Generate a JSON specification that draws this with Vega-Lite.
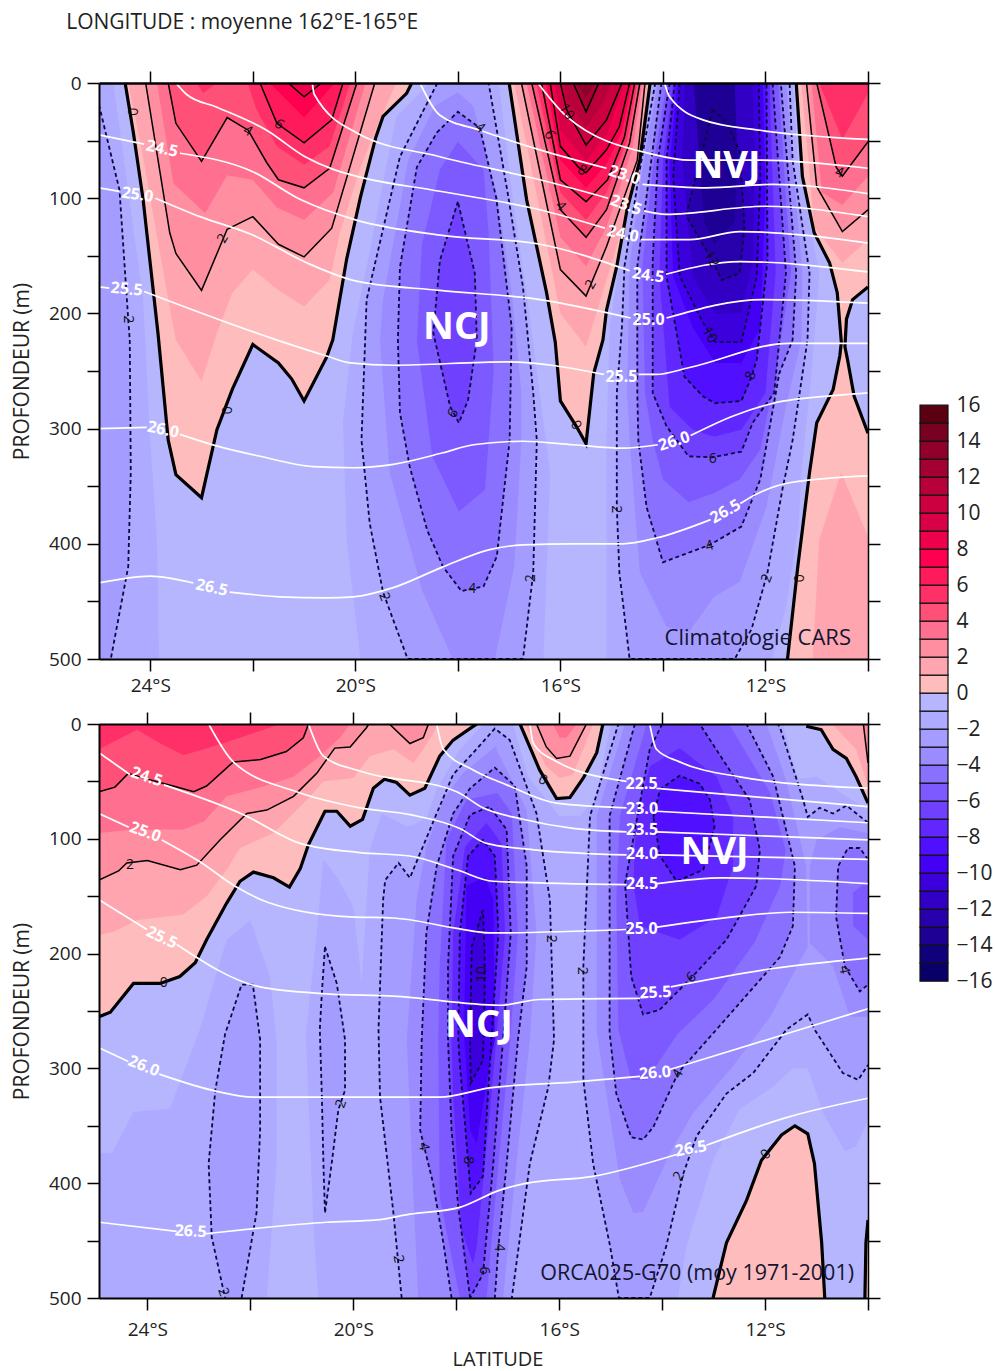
{"$schema":"https://vega.github.io/schema/vega-lite/v6.json","background":"white","padding":{"left":11,"top":12,"right":0,"bottom":20},"config":{"font":"Open Sans","concat":{"spacing":0}},"datasets":{
"topC":[
{"c":"A2","b":-2,"lat":-24.72,"d":0},{"c":"A2","b":-2,"lat":-24.45,"d":87},{"c":"A2","b":-2,"lat":-24.14,"d":188},{"c":"A2","b":-2,"lat":-24.1,"d":223},{"c":"A2","b":-2,"lat":-24,"d":310},{"c":"A2","b":-2,"lat":-23.87,"d":397},{"c":"A2","b":-2,"lat":-23.83,"d":500},{"c":"A2","b":-2,"lat":-25,"d":500},{"c":"A2","b":-2,"lat":-25,"d":0},
{"c":"A3","b":-3,"lat":-25,"d":19},{"c":"A3","b":-3,"lat":-24.6,"d":93},{"c":"A3","b":-3,"lat":-24.43,"d":205},{"c":"A3","b":-3,"lat":-24.4,"d":223},{"c":"A3","b":-3,"lat":-24.38,"d":338},{"c":"A3","b":-3,"lat":-24.43,"d":420},{"c":"A3","b":-3,"lat":-24.77,"d":500},{"c":"A3","b":-3,"lat":-25,"d":500},
{"c":"C2","b":-2,"lat":-18.55,"d":0},{"c":"C2","b":-2,"lat":-19.2,"d":29},{"c":"C2","b":-2,"lat":-19.4,"d":73},{"c":"C2","b":-2,"lat":-19.78,"d":160},{"c":"C2","b":-2,"lat":-20.05,"d":217},{"c":"C2","b":-2,"lat":-20.24,"d":295},{"c":"C2","b":-2,"lat":-20.17,"d":396},{"c":"C2","b":-2,"lat":-19.9,"d":500},{"c":"C2","b":-2,"lat":-16.33,"d":500},{"c":"C2","b":-2,"lat":-16.2,"d":338},{"c":"C2","b":-2,"lat":-16.66,"d":182},{"c":"C2","b":-2,"lat":-16.93,"d":101},{"c":"C2","b":-2,"lat":-17.2,"d":0},
{"c":"C3","b":-3,"lat":-18.4,"d":0},{"c":"C3","b":-3,"lat":-19.13,"d":64},{"c":"C3","b":-3,"lat":-19.78,"d":188},{"c":"C3","b":-3,"lat":-19.88,"d":310},{"c":"C3","b":-3,"lat":-19.72,"d":382},{"c":"C3","b":-3,"lat":-19.46,"d":442},{"c":"C3","b":-3,"lat":-18.98,"d":500},{"c":"C3","b":-3,"lat":-16.73,"d":500},{"c":"C3","b":-3,"lat":-16.53,"d":425},{"c":"C3","b":-3,"lat":-16.46,"d":310},{"c":"C3","b":-3,"lat":-16.53,"d":269},{"c":"C3","b":-3,"lat":-16.73,"d":177},{"c":"C3","b":-3,"lat":-17.03,"d":95},{"c":"C3","b":-3,"lat":-17.4,"d":0},
{"c":"C4","b":-4,"lat":-18.45,"d":20},{"c":"C4","b":-4,"lat":-18.97,"d":67},{"c":"C4","b":-4,"lat":-19.46,"d":188},{"c":"C4","b":-4,"lat":-19.52,"d":223},{"c":"C4","b":-4,"lat":-19.33,"d":338},{"c":"C4","b":-4,"lat":-18.7,"d":440},{"c":"C4","b":-4,"lat":-18.1,"d":500},{"c":"C4","b":-4,"lat":-17.28,"d":500},{"c":"C4","b":-4,"lat":-16.9,"d":420},{"c":"C4","b":-4,"lat":-16.76,"d":310},{"c":"C4","b":-4,"lat":-16.76,"d":269},{"c":"C4","b":-4,"lat":-16.95,"d":182},{"c":"C4","b":-4,"lat":-17.24,"d":95},{"c":"C4","b":-4,"lat":-17.7,"d":20},{"c":"C4","b":-4,"lat":-18,"d":8},
{"c":"C5","b":-5,"lat":-18.41,"d":43},{"c":"C5","b":-5,"lat":-18,"d":25},{"c":"C5","b":-5,"lat":-17.57,"d":39},{"c":"C5","b":-5,"lat":-17.25,"d":100},{"c":"C5","b":-5,"lat":-16.95,"d":212},{"c":"C5","b":-5,"lat":-16.99,"d":310},{"c":"C5","b":-5,"lat":-17.24,"d":411},{"c":"C5","b":-5,"lat":-17.5,"d":437},{"c":"C5","b":-5,"lat":-17.93,"d":441},{"c":"C5","b":-5,"lat":-18.29,"d":420},{"c":"C5","b":-5,"lat":-18.6,"d":388},{"c":"C5","b":-5,"lat":-18.94,"d":333},{"c":"C5","b":-5,"lat":-19.13,"d":286},{"c":"C5","b":-5,"lat":-19.17,"d":223},{"c":"C5","b":-5,"lat":-19.13,"d":160},{"c":"C5","b":-5,"lat":-18.8,"d":73},{"c":"C5","b":-5,"lat":-18.41,"d":43},
{"c":"C6","b":-6,"lat":-18,"d":51},{"c":"C6","b":-6,"lat":-18.35,"d":75},{"c":"C6","b":-6,"lat":-18.7,"d":140},{"c":"C6","b":-6,"lat":-18.8,"d":223},{"c":"C6","b":-6,"lat":-18.5,"d":324},{"c":"C6","b":-6,"lat":-17.98,"d":372},{"c":"C6","b":-6,"lat":-17.47,"d":353},{"c":"C6","b":-6,"lat":-17.3,"d":250},{"c":"C6","b":-6,"lat":-17.4,"d":130},{"c":"C6","b":-6,"lat":-17.5,"d":75},
{"c":"C7","b":-7,"lat":-18,"d":103},{"c":"C7","b":-7,"lat":-18.35,"d":154},{"c":"C7","b":-7,"lat":-18.48,"d":217},{"c":"C7","b":-7,"lat":-18.15,"d":281},{"c":"C7","b":-7,"lat":-17.98,"d":295},{"c":"C7","b":-7,"lat":-17.8,"d":275},{"c":"C7","b":-7,"lat":-17.63,"d":223},{"c":"C7","b":-7,"lat":-17.67,"d":165},{"c":"C7","b":-7,"lat":-18,"d":103},
{"c":"N2","b":-2,"lat":-14.2,"d":0},{"c":"N2","b":-2,"lat":-14.65,"d":101},{"c":"N2","b":-2,"lat":-15.04,"d":212},{"c":"N2","b":-2,"lat":-15.1,"d":310},{"c":"N2","b":-2,"lat":-15.1,"d":500},{"c":"N2","b":-2,"lat":-11.87,"d":500},{"c":"N2","b":-2,"lat":-11.6,"d":455},{"c":"N2","b":-2,"lat":-11.35,"d":382},{"c":"N2","b":-2,"lat":-11.3,"d":338},{"c":"N2","b":-2,"lat":-11.1,"d":252},{"c":"N2","b":-2,"lat":-10.95,"d":165},{"c":"N2","b":-2,"lat":-11.37,"d":67},{"c":"N2","b":-2,"lat":-11.47,"d":0},
{"c":"N3","b":-3,"lat":-14.15,"d":0},{"c":"N3","b":-3,"lat":-14.45,"d":75},{"c":"N3","b":-3,"lat":-14.75,"d":159},{"c":"N3","b":-3,"lat":-14.8,"d":212},{"c":"N3","b":-3,"lat":-14.9,"d":269},{"c":"N3","b":-3,"lat":-14.9,"d":368},{"c":"N3","b":-3,"lat":-14.85,"d":425},{"c":"N3","b":-3,"lat":-14.65,"d":500},{"c":"N3","b":-3,"lat":-12.6,"d":500},{"c":"N3","b":-3,"lat":-12.27,"d":474},{"c":"N3","b":-3,"lat":-11.96,"d":425},{"c":"N3","b":-3,"lat":-11.67,"d":353},{"c":"N3","b":-3,"lat":-11.47,"d":310},{"c":"N3","b":-3,"lat":-11.18,"d":223},{"c":"N3","b":-3,"lat":-11.14,"d":165},{"c":"N3","b":-3,"lat":-11.47,"d":67},{"c":"N3","b":-3,"lat":-11.53,"d":0},
{"c":"N4","b":-4,"lat":-14.1,"d":0},{"c":"N4","b":-4,"lat":-14.4,"d":75},{"c":"N4","b":-4,"lat":-14.65,"d":159},{"c":"N4","b":-4,"lat":-14.7,"d":269},{"c":"N4","b":-4,"lat":-14.65,"d":310},{"c":"N4","b":-4,"lat":-14.45,"d":425},{"c":"N4","b":-4,"lat":-13.93,"d":472},{"c":"N4","b":-4,"lat":-13.5,"d":477},{"c":"N4","b":-4,"lat":-13,"d":446},{"c":"N4","b":-4,"lat":-12.5,"d":433},{"c":"N4","b":-4,"lat":-11.98,"d":368},{"c":"N4","b":-4,"lat":-11.6,"d":281},{"c":"N4","b":-4,"lat":-11.3,"d":223},{"c":"N4","b":-4,"lat":-11.28,"d":165},{"c":"N4","b":-4,"lat":-11.6,"d":0},
{"c":"N5","b":-5,"lat":-14.03,"d":0},{"c":"N5","b":-5,"lat":-14.25,"d":75},{"c":"N5","b":-5,"lat":-14.5,"d":159},{"c":"N5","b":-5,"lat":-14.5,"d":269},{"c":"N5","b":-5,"lat":-14.48,"d":310},{"c":"N5","b":-5,"lat":-14.32,"d":368},{"c":"N5","b":-5,"lat":-14,"d":416},{"c":"N5","b":-5,"lat":-13.09,"d":401},{"c":"N5","b":-5,"lat":-12.47,"d":385},{"c":"N5","b":-5,"lat":-12.1,"d":344},{"c":"N5","b":-5,"lat":-11.73,"d":252},{"c":"N5","b":-5,"lat":-11.47,"d":223},{"c":"N5","b":-5,"lat":-11.4,"d":165},{"c":"N5","b":-5,"lat":-11.7,"d":0},
{"c":"N6","b":-6,"lat":-13.93,"d":0},{"c":"N6","b":-6,"lat":-14.2,"d":75},{"c":"N6","b":-6,"lat":-14.4,"d":159},{"c":"N6","b":-6,"lat":-14.35,"d":269},{"c":"N6","b":-6,"lat":-14.2,"d":310},{"c":"N6","b":-6,"lat":-14,"d":344},{"c":"N6","b":-6,"lat":-13.5,"d":364},{"c":"N6","b":-6,"lat":-13,"d":356},{"c":"N6","b":-6,"lat":-12.5,"d":344},{"c":"N6","b":-6,"lat":-12.1,"d":318},{"c":"N6","b":-6,"lat":-11.8,"d":252},{"c":"N6","b":-6,"lat":-11.5,"d":165},{"c":"N6","b":-6,"lat":-11.75,"d":0},
{"c":"N7","b":-7,"lat":-13.87,"d":0},{"c":"N7","b":-7,"lat":-14.1,"d":67},{"c":"N7","b":-7,"lat":-14.2,"d":154},{"c":"N7","b":-7,"lat":-14.2,"d":269},{"c":"N7","b":-7,"lat":-13.93,"d":298},{"c":"N7","b":-7,"lat":-13.5,"d":324},{"c":"N7","b":-7,"lat":-13.04,"d":325},{"c":"N7","b":-7,"lat":-12.47,"d":320},{"c":"N7","b":-7,"lat":-12.25,"d":295},{"c":"N7","b":-7,"lat":-11.83,"d":269},{"c":"N7","b":-7,"lat":-11.6,"d":165},{"c":"N7","b":-7,"lat":-11.86,"d":0},
{"c":"N8","b":-8,"lat":-13.8,"d":0},{"c":"N8","b":-8,"lat":-14,"d":67},{"c":"N8","b":-8,"lat":-14.07,"d":168},{"c":"N8","b":-8,"lat":-13.87,"d":281},{"c":"N8","b":-8,"lat":-13.42,"d":301},{"c":"N8","b":-8,"lat":-13,"d":307},{"c":"N8","b":-8,"lat":-12.47,"d":301},{"c":"N8","b":-8,"lat":-12,"d":269},{"c":"N8","b":-8,"lat":-11.8,"d":165},{"c":"N8","b":-8,"lat":-11.92,"d":0},
{"c":"N9","b":-9,"lat":-13.77,"d":0},{"c":"N9","b":-9,"lat":-13.93,"d":67},{"c":"N9","b":-9,"lat":-13.93,"d":168},{"c":"N9","b":-9,"lat":-13.58,"d":255},{"c":"N9","b":-9,"lat":-13.22,"d":272},{"c":"N9","b":-9,"lat":-12.98,"d":278},{"c":"N9","b":-9,"lat":-12.47,"d":276},{"c":"N9","b":-9,"lat":-12.27,"d":255},{"c":"N9","b":-9,"lat":-12.17,"d":240},{"c":"N9","b":-9,"lat":-11.96,"d":154},{"c":"N9","b":-9,"lat":-11.98,"d":0},
{"c":"N10","b":-10,"lat":-13.72,"d":0},{"c":"N10","b":-10,"lat":-13.87,"d":73},{"c":"N10","b":-10,"lat":-13.8,"d":168},{"c":"N10","b":-10,"lat":-13.42,"d":212},{"c":"N10","b":-10,"lat":-12.98,"d":243},{"c":"N10","b":-10,"lat":-12.47,"d":243},{"c":"N10","b":-10,"lat":-12.1,"d":212},{"c":"N10","b":-10,"lat":-12,"d":95},{"c":"N10","b":-10,"lat":-12.05,"d":0},
{"c":"N11","b":-11,"lat":-13.67,"d":0},{"c":"N11","b":-11,"lat":-13.8,"d":81},{"c":"N11","b":-11,"lat":-13.67,"d":168},{"c":"N11","b":-11,"lat":-13.22,"d":208},{"c":"N11","b":-11,"lat":-12.98,"d":225},{"c":"N11","b":-11,"lat":-12.47,"d":225},{"c":"N11","b":-11,"lat":-12.17,"d":168},{"c":"N11","b":-11,"lat":-12.1,"d":81},{"c":"N11","b":-11,"lat":-12.13,"d":0},
{"c":"N12","b":-12,"lat":-13.57,"d":0},{"c":"N12","b":-12,"lat":-13.62,"d":67},{"c":"N12","b":-12,"lat":-13.42,"d":168},{"c":"N12","b":-12,"lat":-12.98,"d":200},{"c":"N12","b":-12,"lat":-12.47,"d":200},{"c":"N12","b":-12,"lat":-12.25,"d":154},{"c":"N12","b":-12,"lat":-12.2,"d":67},{"c":"N12","b":-12,"lat":-12.25,"d":0},
{"c":"N13","b":-13,"lat":-13.03,"d":23},{"c":"N13","b":-13,"lat":-13.35,"d":80},{"c":"N13","b":-13,"lat":-13.55,"d":115},{"c":"N13","b":-13,"lat":-13.05,"d":153},{"c":"N13","b":-13,"lat":-12.85,"d":171},{"c":"N13","b":-13,"lat":-12.5,"d":165},{"c":"N13","b":-13,"lat":-12.41,"d":125},{"c":"N13","b":-13,"lat":-12.5,"d":60},{"c":"N13","b":-13,"lat":-12.75,"d":35},{"c":"N13","b":-13,"lat":-13.03,"d":23},
{"c":"N14","b":-14,"lat":-13.4,"d":0},{"c":"N14","b":-14,"lat":-13.3,"d":60},{"c":"N14","b":-14,"lat":-13.2,"d":120},{"c":"N14","b":-14,"lat":-13,"d":140},{"c":"N14","b":-14,"lat":-12.6,"d":120},{"c":"N14","b":-14,"lat":-12.55,"d":60},{"c":"N14","b":-14,"lat":-12.6,"d":0},
{"c":"L0","b":0,"lat":-24.49,"d":0},{"c":"L0","b":0,"lat":-24.33,"d":43},{"c":"L0","b":0,"lat":-24.14,"d":101},{"c":"L0","b":0,"lat":-23.85,"d":217},{"c":"L0","b":0,"lat":-23.65,"d":310},{"c":"L0","b":0,"lat":-23.5,"d":340},{"c":"L0","b":0,"lat":-23,"d":360},{"c":"L0","b":0,"lat":-22.7,"d":301},{"c":"L0","b":0,"lat":-22.4,"d":266},{"c":"L0","b":0,"lat":-22,"d":227},{"c":"L0","b":0,"lat":-21.5,"d":243},{"c":"L0","b":0,"lat":-21.24,"d":257},{"c":"L0","b":0,"lat":-21,"d":276},{"c":"L0","b":0,"lat":-20.56,"d":238},{"c":"L0","b":0,"lat":-20.44,"d":223},{"c":"L0","b":0,"lat":-20.17,"d":153},{"c":"L0","b":0,"lat":-19.9,"d":99},{"c":"L0","b":0,"lat":-19.6,"d":47},{"c":"L0","b":0,"lat":-19.46,"d":29},{"c":"L0","b":0,"lat":-19,"d":9},{"c":"L0","b":0,"lat":-18.9,"d":0},
{"c":"L1","b":1,"lat":-24.43,"d":0},{"c":"L1","b":1,"lat":-24.2,"d":50},{"c":"L1","b":1,"lat":-24,"d":100},{"c":"L1","b":1,"lat":-23.8,"d":150},{"c":"L1","b":1,"lat":-23.6,"d":200},{"c":"L1","b":1,"lat":-23.5,"d":223},{"c":"L1","b":1,"lat":-23,"d":259},{"c":"L1","b":1,"lat":-22.7,"d":217},{"c":"L1","b":1,"lat":-22.4,"d":182},{"c":"L1","b":1,"lat":-22,"d":162},{"c":"L1","b":1,"lat":-21.5,"d":180},{"c":"L1","b":1,"lat":-21,"d":194},{"c":"L1","b":1,"lat":-20.5,"d":171},{"c":"L1","b":1,"lat":-20.3,"d":130},{"c":"L1","b":1,"lat":-19.9,"d":73},{"c":"L1","b":1,"lat":-19.5,"d":30},{"c":"L1","b":1,"lat":-19.2,"d":0},
{"c":"L2","b":2,"lat":-24.09,"d":0},{"c":"L2","b":2,"lat":-23.62,"d":130},{"c":"L2","b":2,"lat":-23.5,"d":148},{"c":"L2","b":2,"lat":-23,"d":180},{"c":"L2","b":2,"lat":-22.5,"d":127},{"c":"L2","b":2,"lat":-22,"d":116},{"c":"L2","b":2,"lat":-21.5,"d":140},{"c":"L2","b":2,"lat":-21,"d":151},{"c":"L2","b":2,"lat":-20.46,"d":126},{"c":"L2","b":2,"lat":-19.62,"d":0},
{"c":"L3","b":3,"lat":-23.87,"d":0},{"c":"L3","b":3,"lat":-23.55,"d":87},{"c":"L3","b":3,"lat":-22.93,"d":113},{"c":"L3","b":3,"lat":-22.5,"d":80},{"c":"L3","b":3,"lat":-22,"d":84},{"c":"L3","b":3,"lat":-21.53,"d":108},{"c":"L3","b":3,"lat":-21,"d":119},{"c":"L3","b":3,"lat":-20.43,"d":95},{"c":"L3","b":3,"lat":-19.8,"d":0},
{"c":"L4","b":4,"lat":-23.65,"d":0},{"c":"L4","b":4,"lat":-23.5,"d":35},{"c":"L4","b":4,"lat":-23,"d":68},{"c":"L4","b":4,"lat":-22.5,"d":30},{"c":"L4","b":4,"lat":-22.09,"d":41},{"c":"L4","b":4,"lat":-21.73,"d":69},{"c":"L4","b":4,"lat":-21.5,"d":84},{"c":"L4","b":4,"lat":-21,"d":91},{"c":"L4","b":4,"lat":-20.5,"d":74},{"c":"L4","b":4,"lat":-19.97,"d":0},
{"c":"L5","b":5,"lat":-22.1,"d":0},{"c":"L5","b":5,"lat":-21.93,"d":23},{"c":"L5","b":5,"lat":-21.53,"d":55},{"c":"L5","b":5,"lat":-21,"d":71},{"c":"L5","b":5,"lat":-20.5,"d":55},{"c":"L5","b":5,"lat":-20.1,"d":0},
{"c":"L5b","b":5,"lat":-23.09,"d":0},{"c":"L5b","b":5,"lat":-22.97,"d":9},{"c":"L5b","b":5,"lat":-22.7,"d":0},
{"c":"L6","b":6,"lat":-21.86,"d":0},{"c":"L6","b":6,"lat":-21.53,"d":35},{"c":"L6","b":6,"lat":-21,"d":52},{"c":"L6","b":6,"lat":-20.46,"d":32},{"c":"L6","b":6,"lat":-20.24,"d":0},
{"c":"L7","b":7,"lat":-21.67,"d":0},{"c":"L7","b":7,"lat":-21,"d":30},{"c":"L7","b":7,"lat":-20.4,"d":0},
{"c":"L8","b":8,"lat":-21.31,"d":0},{"c":"L8","b":8,"lat":-21,"d":12},{"c":"L8","b":8,"lat":-20.66,"d":0},
{"c":"M0","b":0,"lat":-17,"d":0},{"c":"M0","b":0,"lat":-16.66,"d":101},{"c":"M0","b":0,"lat":-16.27,"d":182},{"c":"M0","b":0,"lat":-16.1,"d":225},{"c":"M0","b":0,"lat":-16,"d":276},{"c":"M0","b":0,"lat":-15.69,"d":298},{"c":"M0","b":0,"lat":-15.5,"d":313},{"c":"M0","b":0,"lat":-15.35,"d":252},{"c":"M0","b":0,"lat":-15.17,"d":223},{"c":"M0","b":0,"lat":-15.1,"d":197},{"c":"M0","b":0,"lat":-14.9,"d":159},{"c":"M0","b":0,"lat":-14.7,"d":110},{"c":"M0","b":0,"lat":-14.45,"d":67},{"c":"M0","b":0,"lat":-14.25,"d":0},
{"c":"M1","b":1,"lat":-16.9,"d":0},{"c":"M1","b":1,"lat":-16,"d":200},{"c":"M1","b":1,"lat":-15.5,"d":229},{"c":"M1","b":1,"lat":-15.1,"d":171},{"c":"M1","b":1,"lat":-14.45,"d":75},{"c":"M1","b":1,"lat":-14.3,"d":0},
{"c":"M2","b":2,"lat":-16.76,"d":0},{"c":"M2","b":2,"lat":-16,"d":162},{"c":"M2","b":2,"lat":-15.5,"d":185},{"c":"M2","b":2,"lat":-15.1,"d":142},{"c":"M2","b":2,"lat":-14.5,"d":67},{"c":"M2","b":2,"lat":-14.35,"d":0},
{"c":"M3","b":3,"lat":-16.66,"d":0},{"c":"M3","b":3,"lat":-16,"d":134},{"c":"M3","b":3,"lat":-15.5,"d":159},{"c":"M3","b":3,"lat":-15.1,"d":125},{"c":"M3","b":3,"lat":-14.6,"d":58},{"c":"M3","b":3,"lat":-14.4,"d":0},
{"c":"M4","b":4,"lat":-16.56,"d":0},{"c":"M4","b":4,"lat":-16,"d":110},{"c":"M4","b":4,"lat":-15.5,"d":134},{"c":"M4","b":4,"lat":-15.1,"d":110},{"c":"M4","b":4,"lat":-14.65,"d":52},{"c":"M4","b":4,"lat":-14.45,"d":0},
{"c":"M5","b":5,"lat":-16.47,"d":0},{"c":"M5","b":5,"lat":-16,"d":95},{"c":"M5","b":5,"lat":-15.5,"d":119},{"c":"M5","b":5,"lat":-15.1,"d":95},{"c":"M5","b":5,"lat":-14.7,"d":50},{"c":"M5","b":5,"lat":-14.5,"d":0},
{"c":"M6","b":6,"lat":-16.37,"d":0},{"c":"M6","b":6,"lat":-16,"d":84},{"c":"M6","b":6,"lat":-15.5,"d":103},{"c":"M6","b":6,"lat":-15.08,"d":84},{"c":"M6","b":6,"lat":-14.75,"d":47},{"c":"M6","b":6,"lat":-14.55,"d":0},
{"c":"M7","b":7,"lat":-16.28,"d":0},{"c":"M7","b":7,"lat":-16,"d":67},{"c":"M7","b":7,"lat":-15.5,"d":91},{"c":"M7","b":7,"lat":-15.1,"d":70},{"c":"M7","b":7,"lat":-14.8,"d":42},{"c":"M7","b":7,"lat":-14.6,"d":0},
{"c":"M8","b":8,"lat":-16.2,"d":0},{"c":"M8","b":8,"lat":-16,"d":55},{"c":"M8","b":8,"lat":-15.65,"d":73},{"c":"M8","b":8,"lat":-15.5,"d":78},{"c":"M8","b":8,"lat":-15.1,"d":58},{"c":"M8","b":8,"lat":-14.85,"d":38},{"c":"M8","b":8,"lat":-14.65,"d":0},
{"c":"M9","b":9,"lat":-16.1,"d":0},{"c":"M9","b":9,"lat":-16,"d":41},{"c":"M9","b":9,"lat":-15.5,"d":67},{"c":"M9","b":9,"lat":-15.1,"d":45},{"c":"M9","b":9,"lat":-14.75,"d":0},
{"c":"M10","b":10,"lat":-16,"d":0},{"c":"M10","b":10,"lat":-15.88,"d":23},{"c":"M10","b":10,"lat":-15.5,"d":54},{"c":"M10","b":10,"lat":-15.1,"d":32},{"c":"M10","b":10,"lat":-14.8,"d":0},
{"c":"M11","b":11,"lat":-15.93,"d":0},{"c":"M11","b":11,"lat":-15.9,"d":12},{"c":"M11","b":11,"lat":-15.5,"d":39},{"c":"M11","b":11,"lat":-15.17,"d":17},{"c":"M11","b":11,"lat":-15,"d":0},
{"c":"M12","b":12,"lat":-15.75,"d":0},{"c":"M12","b":12,"lat":-15.5,"d":25},{"c":"M12","b":12,"lat":-15.25,"d":0},
{"c":"M13","b":13,"lat":-15.7,"d":0},{"c":"M13","b":13,"lat":-15.5,"d":12},{"c":"M13","b":13,"lat":-15.3,"d":0},
{"c":"R0","b":0,"lat":-11.4,"d":0},{"c":"R0","b":0,"lat":-11.28,"d":81},{"c":"R0","b":0,"lat":-11.05,"d":130},{"c":"R0","b":0,"lat":-10.75,"d":156},{"c":"R0","b":0,"lat":-10.6,"d":182},{"c":"R0","b":0,"lat":-10.52,"d":225},{"c":"R0","b":0,"lat":-10.55,"d":237},{"c":"R0","b":0,"lat":-10.68,"d":266},{"c":"R0","b":0,"lat":-11,"d":295},{"c":"R0","b":0,"lat":-11.14,"d":338},{"c":"R0","b":0,"lat":-11.37,"d":420},{"c":"R0","b":0,"lat":-11.57,"d":500},{"c":"R0","b":0,"lat":-10,"d":500},{"c":"R0","b":0,"lat":-10,"d":0},
{"c":"R1","b":1,"lat":-11.3,"d":0},{"c":"R1","b":1,"lat":-11.05,"d":125},{"c":"R1","b":1,"lat":-10.5,"d":156},{"c":"R1","b":1,"lat":-10,"d":136},{"c":"R1","b":1,"lat":-10,"d":0},
{"c":"R1b","b":1,"lat":-11.08,"d":500},{"c":"R1b","b":1,"lat":-10.95,"d":396},{"c":"R1b","b":1,"lat":-10.52,"d":338},{"c":"R1b","b":1,"lat":-10,"d":394},{"c":"R1b","b":1,"lat":-10,"d":500},
{"c":"R2","b":2,"lat":-11.2,"d":0},{"c":"R2","b":2,"lat":-11,"d":90},{"c":"R2","b":2,"lat":-10.5,"d":129},{"c":"R2","b":2,"lat":-10,"d":110},{"c":"R2","b":2,"lat":-10,"d":0},
{"c":"R3","b":3,"lat":-11.1,"d":0},{"c":"R3","b":3,"lat":-10.9,"d":95},{"c":"R3","b":3,"lat":-10.5,"d":106},{"c":"R3","b":3,"lat":-10,"d":81},{"c":"R3","b":3,"lat":-10,"d":0},
{"c":"R4","b":4,"lat":-11,"d":0},{"c":"R4","b":4,"lat":-10.62,"d":73},{"c":"R4","b":4,"lat":-10.5,"d":81},{"c":"R4","b":4,"lat":-10,"d":51},{"c":"R4","b":4,"lat":-10,"d":0},
{"c":"R5","b":5,"lat":-10.95,"d":0},{"c":"R5","b":5,"lat":-10.5,"d":49},{"c":"R5","b":5,"lat":-10,"d":9},{"c":"R5","b":5,"lat":-10,"d":0},
{"c":"Rl","b":-1,"lat":-10,"d":177},{"c":"Rl","b":-1,"lat":-10.3,"d":188},{"c":"Rl","b":-1,"lat":-10.42,"d":205},{"c":"Rl","b":-1,"lat":-10.45,"d":229},{"c":"Rl","b":-1,"lat":-10.4,"d":240},{"c":"Rl","b":-1,"lat":-10.27,"d":272},{"c":"Rl","b":-1,"lat":-10,"d":304}
],
"topW":[
{"s":"22.0","lat":-13.97,"d":0},{"s":"22.0","lat":-13.87,"d":12},{"s":"22.0","lat":-13.22,"d":32},{"s":"22.0","lat":-12.12,"d":41},{"s":"22.0","lat":-10,"d":49},
{"s":"22.5","lat":-16.44,"d":0},{"s":"22.5","lat":-15.88,"d":29},{"s":"22.5","lat":-14.19,"d":62},{"s":"22.5","lat":-13.48,"d":67},{"s":"22.5","lat":-12.12,"d":67},{"s":"22.5","lat":-10,"d":74},
{"s":"23.0","lat":-18.74,"d":0},{"s":"23.0","lat":-18.35,"d":28},{"s":"23.0","lat":-17.57,"d":41},{"s":"23.0","lat":-16.4,"d":58},{"s":"23.0","lat":-15.1,"d":74},{"s":"23.0b","lat":-14.4,"d":88},{"s":"23.0b","lat":-13.15,"d":91},{"s":"23.0b","lat":-11.86,"d":88},{"s":"23.0b","lat":-10,"d":96},
{"s":"23.5","lat":-20.84,"d":0},{"s":"23.5","lat":-20.8,"d":10},{"s":"23.5","lat":-19.94,"d":44},{"s":"23.5","lat":-18.35,"d":64},{"s":"23.5","lat":-16.4,"d":84},{"s":"23.5","lat":-15.07,"d":100},{"s":"23.5b","lat":-14.37,"d":111},{"s":"23.5b","lat":-13.94,"d":114},{"s":"23.5b","lat":-12,"d":107},{"s":"23.5b","lat":-10,"d":116},
{"s":"24.0","lat":-23.5,"d":0},{"s":"24.0","lat":-23.29,"d":10},{"s":"24.0","lat":-22.7,"d":21},{"s":"24.0","lat":-21.73,"d":41},{"s":"24.0","lat":-20.98,"d":64},{"s":"24.0","lat":-20.43,"d":75},{"s":"24.0","lat":-19.97,"d":81},{"s":"24.0","lat":-18.35,"d":94},{"s":"24.0","lat":-16.4,"d":110},{"s":"24.0","lat":-15.13,"d":126},{"s":"24.0b","lat":-14.43,"d":136},{"s":"24.0b","lat":-13.48,"d":136},{"s":"24.0b","lat":-12.5,"d":129},{"s":"24.0b","lat":-10,"d":139},
{"s":"24.5","lat":-25,"d":45},{"s":"24.5","lat":-24.12,"d":53},{"s":"24.5b","lat":-23.42,"d":61},{"s":"24.5b","lat":-22,"d":77},{"s":"24.5b","lat":-21.08,"d":101},{"s":"24.5b","lat":-19.98,"d":119},{"s":"24.5b","lat":-18.35,"d":132},{"s":"24.5b","lat":-16.4,"d":140},{"s":"24.5b","lat":-14.65,"d":163},{"s":"24.5c","lat":-13.94,"d":166},{"s":"24.5c","lat":-12.5,"d":155},{"s":"24.5c","lat":-10,"d":164},
{"s":"25.0","lat":-25,"d":91},{"s":"25.0","lat":-24.6,"d":94},{"s":"25.0b","lat":-23.9,"d":100},{"s":"25.0b","lat":-23.03,"d":116},{"s":"25.0b","lat":-22,"d":132},{"s":"25.0b","lat":-20.95,"d":156},{"s":"25.0b","lat":-19.98,"d":172},{"s":"25.0b","lat":-18.35,"d":180},{"s":"25.0b","lat":-16.4,"d":188},{"s":"25.0b","lat":-14.63,"d":204},{"s":"25.0c","lat":-13.93,"d":204},{"s":"25.0c","lat":-12.05,"d":188},{"s":"25.0c","lat":-10,"d":191},
{"s":"25.5","lat":-25,"d":177},{"s":"25.5","lat":-24.8,"d":178},{"s":"25.5b","lat":-24.12,"d":181},{"s":"25.5b","lat":-21.54,"d":223},{"s":"25.5b","lat":-20.56,"d":237},{"s":"25.5b","lat":-20.1,"d":243},{"s":"25.5b","lat":-19.26,"d":245},{"s":"25.5b","lat":-17.05,"d":242},{"s":"25.5b","lat":-15.15,"d":253},{"s":"25.5c","lat":-14.47,"d":253},{"s":"25.5c","lat":-14.13,"d":253},{"s":"25.5c","lat":-13.48,"d":247},{"s":"25.5c","lat":-11.53,"d":226},{"s":"25.5c","lat":-10,"d":226},
{"s":"26.0","lat":-25,"d":300},{"s":"26.0","lat":-24.07,"d":299},{"s":"26.0b","lat":-23.42,"d":305},{"s":"26.0b","lat":-22.71,"d":315},{"s":"26.0b","lat":-21.86,"d":324},{"s":"26.0b","lat":-20.82,"d":333},{"s":"26.0b","lat":-20.04,"d":334},{"s":"26.0b","lat":-19.26,"d":331},{"s":"26.0b","lat":-18.29,"d":321},{"s":"26.0b","lat":-17.7,"d":314},{"s":"26.0b","lat":-16.73,"d":311},{"s":"26.0b","lat":-15.75,"d":314},{"s":"26.0b","lat":-14.78,"d":317},{"s":"26.0b","lat":-14.1,"d":314},{"s":"26.0c","lat":-13.46,"d":306},{"s":"26.0c","lat":-12.63,"d":289},{"s":"26.0c","lat":-11.85,"d":278},{"s":"26.0c","lat":-10.56,"d":271},{"s":"26.0c","lat":-10,"d":269},
{"s":"26.5","lat":-25,"d":434},{"s":"26.5","lat":-24,"d":428},{"s":"26.5","lat":-23.16,"d":434},{"s":"26.5b","lat":-22.45,"d":442},{"s":"26.5b","lat":-21.47,"d":446},{"s":"26.5b","lat":-20.56,"d":447},{"s":"26.5b","lat":-20.04,"d":446},{"s":"26.5b","lat":-19.26,"d":438},{"s":"26.5b","lat":-18.29,"d":420},{"s":"26.5b","lat":-17.38,"d":405},{"s":"26.5b","lat":-16.73,"d":401},{"s":"26.5b","lat":-15.75,"d":400},{"s":"26.5b","lat":-14.78,"d":400},{"s":"26.5b","lat":-14.13,"d":395},{"s":"26.5b","lat":-13.07,"d":379},{"s":"26.5c","lat":-12.49,"d":365},{"s":"26.5c","lat":-12.18,"d":357},{"s":"26.5c","lat":-11.53,"d":347},{"s":"26.5c","lat":-10,"d":341}
],
"topWL":[
{"t":"24.5","lat":-23.77,"d":57,"a":12},{"t":"25.0","lat":-24.25,"d":97,"a":8},{"t":"25.5","lat":-24.46,"d":179,"a":5},{"t":"26.0","lat":-23.75,"d":301,"a":12},{"t":"26.5","lat":-22.8,"d":438,"a":12},{"t":"23.0","lat":-14.75,"d":80,"a":18},{"t":"23.5","lat":-14.72,"d":106,"a":20},{"t":"24.0","lat":-14.78,"d":131,"a":12},{"t":"24.5","lat":-14.29,"d":167,"a":8},{"t":"25.0","lat":-14.28,"d":206,"a":0},{"t":"25.5","lat":-14.81,"d":255,"a":0},{"t":"26.0","lat":-13.78,"d":311,"a":-18},{"t":"26.5","lat":-12.78,"d":372,"a":-30}
],
"topBL":[
{"t":"0","lat":-24.36,"d":25,"a":90},{"t":"4","lat":-22.1,"d":42,"a":30},{"t":"6","lat":-21.49,"d":36,"a":40},{"t":"2","lat":-22.58,"d":135,"a":-60},{"t":"2","lat":-24.43,"d":205,"a":90},{"t":"0","lat":-22.53,"d":284,"a":90},{"t":"6","lat":-18.09,"d":287,"a":-60},{"t":"4","lat":-17.72,"d":439,"a":0},{"t":"2","lat":-19.44,"d":446,"a":70},{"t":"10","lat":-15.88,"d":25,"a":60},{"t":"6","lat":-16.22,"d":45,"a":60},{"t":"8","lat":-15.58,"d":76,"a":30},{"t":"4","lat":-16,"d":107,"a":50},{"t":"2","lat":-15.4,"d":175,"a":-60},{"t":"4","lat":-17.57,"d":39,"a":40},{"t":"4","lat":-10.56,"d":78,"a":20},{"t":"12","lat":-13.06,"d":153,"a":60},{"t":"10","lat":-13.09,"d":219,"a":60},{"t":"8","lat":-12.28,"d":254,"a":-70},{"t":"6","lat":-13.03,"d":326,"a":0},{"t":"4","lat":-13.09,"d":402,"a":-15},{"t":"2","lat":-14.91,"d":370,"a":90},{"t":"2","lat":-16.57,"d":430,"a":-90},{"t":"2","lat":-11.97,"d":430,"a":-70},{"t":"0","lat":-11.37,"d":430,"a":90},{"t":"0","lat":-15.7,"d":297,"a":60}
],
"botC":[
{"c":"B2a","b":-2,"lat":-24.93,"d":374},{"c":"B2a","b":-2,"lat":-24.69,"d":374},{"c":"B2a","b":-2,"lat":-24.27,"d":338},{"c":"B2a","b":-2,"lat":-23.56,"d":335},{"c":"B2a","b":-2,"lat":-22.98,"d":266},{"c":"B2a","b":-2,"lat":-22.46,"d":188},{"c":"B2a","b":-2,"lat":-22,"d":171},{"c":"B2a","b":-2,"lat":-21.62,"d":220},{"c":"B2a","b":-2,"lat":-21.49,"d":275},{"c":"B2a","b":-2,"lat":-21.49,"d":383},{"c":"B2a","b":-2,"lat":-21.68,"d":500},{"c":"B2a","b":-2,"lat":-24.94,"d":500},
{"c":"B2b","b":-2,"lat":-20.68,"d":500},{"c":"B2b","b":-2,"lat":-20.77,"d":441},{"c":"B2b","b":-2,"lat":-20.92,"d":270},{"c":"B2b","b":-2,"lat":-20.71,"d":182},{"c":"B2b","b":-2,"lat":-20.58,"d":118},{"c":"B2b","b":-2,"lat":-20.32,"d":133},{"c":"B2b","b":-2,"lat":-20,"d":159},{"c":"B2b","b":-2,"lat":-19.87,"d":211},{"c":"B2b","b":-2,"lat":-19.84,"d":226},{"c":"B2b","b":-2,"lat":-19.68,"d":110},{"c":"B2b","b":-2,"lat":-19.45,"d":78},{"c":"B2b","b":-2,"lat":-18.96,"d":89},{"c":"B2b","b":-2,"lat":-18.83,"d":88},{"c":"B2b","b":-2,"lat":-18.57,"d":81},{"c":"B2b","b":-2,"lat":-18.38,"d":57},{"c":"B2b","b":-2,"lat":-17.93,"d":22},{"c":"B2b","b":-2,"lat":-17.47,"d":0},{"c":"B2b","b":-2,"lat":-16.9,"d":0},{"c":"B2b","b":-2,"lat":-16.6,"d":46},{"c":"B2b","b":-2,"lat":-16,"d":80},{"c":"B2b","b":-2,"lat":-15.6,"d":80},{"c":"B2b","b":-2,"lat":-15.3,"d":66},{"c":"B2b","b":-2,"lat":-15,"d":0},{"c":"B2b","b":-2,"lat":-11.65,"d":0},{"c":"B2b","b":-2,"lat":-11.36,"d":48},{"c":"B2b","b":-2,"lat":-11,"d":46},{"c":"B2b","b":-2,"lat":-10.42,"d":63},{"c":"B2b","b":-2,"lat":-10,"d":75},{"c":"B2b","b":-2,"lat":-10,"d":345},{"c":"B2b","b":-2,"lat":-10.23,"d":368},{"c":"B2b","b":-2,"lat":-10.45,"d":372},{"c":"B2b","b":-2,"lat":-10.87,"d":339},{"c":"B2b","b":-2,"lat":-11.17,"d":300},{"c":"B2b","b":-2,"lat":-11.46,"d":300},{"c":"B2b","b":-2,"lat":-11.85,"d":316},{"c":"B2b","b":-2,"lat":-12.5,"d":336},{"c":"B2b","b":-2,"lat":-13.01,"d":380},{"c":"B2b","b":-2,"lat":-13.53,"d":455},{"c":"B2b","b":-2,"lat":-13.69,"d":500},
{"c":"P1","b":-3,"lat":-22.17,"d":500},{"c":"P1","b":-3,"lat":-21.88,"d":426},{"c":"P1","b":-3,"lat":-21.81,"d":354},{"c":"P1","b":-3,"lat":-21.81,"d":275},{"c":"P1","b":-3,"lat":-21.95,"d":227},{"c":"P1","b":-3,"lat":-22.17,"d":227},{"c":"P1","b":-3,"lat":-22.49,"d":270},{"c":"P1","b":-3,"lat":-22.68,"d":319},{"c":"P1","b":-3,"lat":-22.81,"d":383},{"c":"P1","b":-3,"lat":-22.75,"d":447},{"c":"P1","b":-3,"lat":-22.49,"d":500},
{"c":"P2","b":-3,"lat":-20.55,"d":194},{"c":"P2","b":-3,"lat":-20.32,"d":226},{"c":"P2","b":-3,"lat":-20.16,"d":275},{"c":"P2","b":-3,"lat":-20.16,"d":319},{"c":"P2","b":-3,"lat":-20.29,"d":336},{"c":"P2","b":-3,"lat":-20.42,"d":383},{"c":"P2","b":-3,"lat":-20.55,"d":426},{"c":"P2","b":-3,"lat":-20.58,"d":383},{"c":"P2","b":-3,"lat":-20.61,"d":325},{"c":"P2","b":-3,"lat":-20.65,"d":266},{"c":"P2","b":-3,"lat":-20.61,"d":234},{"c":"P2","b":-3,"lat":-20.55,"d":194},
{"c":"P3","b":-3,"lat":-19.06,"d":500},{"c":"P3","b":-3,"lat":-19.22,"d":426},{"c":"P3","b":-3,"lat":-19.48,"d":325},{"c":"P3","b":-3,"lat":-19.51,"d":266},{"c":"P3","b":-3,"lat":-19.42,"d":153},{"c":"P3","b":-3,"lat":-19.38,"d":136},{"c":"P3","b":-3,"lat":-19.12,"d":121},{"c":"P3","b":-3,"lat":-18.9,"d":134},{"c":"P3","b":-3,"lat":-18.38,"d":78},{"c":"P3","b":-3,"lat":-18.06,"d":44},{"c":"P3","b":-3,"lat":-17.73,"d":28},{"c":"P3","b":-3,"lat":-17.25,"d":4},{"c":"P3","b":-3,"lat":-16.96,"d":14},{"c":"P3","b":-3,"lat":-16.44,"d":78},{"c":"P3","b":-3,"lat":-16.18,"d":153},{"c":"P3","b":-3,"lat":-16.1,"d":275},{"c":"P3","b":-3,"lat":-16.21,"d":316},{"c":"P3","b":-3,"lat":-16.57,"d":383},{"c":"P3","b":-3,"lat":-16.92,"d":500},
{"c":"P4","b":-3,"lat":-10,"d":86},{"c":"P4","b":-3,"lat":-10.42,"d":71},{"c":"P4","b":-3,"lat":-10.68,"d":78},{"c":"P4","b":-3,"lat":-10.94,"d":73},{"c":"P4","b":-3,"lat":-11.17,"d":81},{"c":"P4","b":-3,"lat":-11.26,"d":66},{"c":"P4","b":-3,"lat":-11.71,"d":3},{"c":"P4","b":-3,"lat":-11.75,"d":0},{"c":"P4","b":-3,"lat":-14.85,"d":0},{"c":"P4","b":-3,"lat":-15.4,"d":80},{"c":"P4","b":-3,"lat":-15.53,"d":211},{"c":"P4","b":-3,"lat":-15.53,"d":310},{"c":"P4","b":-3,"lat":-15.34,"d":383},{"c":"P4","b":-3,"lat":-15.01,"d":455},{"c":"P4","b":-3,"lat":-14.84,"d":500},{"c":"P4","b":-3,"lat":-14.24,"d":500},{"c":"P4","b":-3,"lat":-13.92,"d":455},{"c":"P4","b":-3,"lat":-13.59,"d":392},{"c":"P4","b":-3,"lat":-13.33,"d":359},{"c":"P4","b":-3,"lat":-12.75,"d":322},{"c":"P4","b":-3,"lat":-12.23,"d":304},{"c":"P4","b":-3,"lat":-11.58,"d":266},{"c":"P4","b":-3,"lat":-11.17,"d":253},{"c":"P4","b":-3,"lat":-11.04,"d":266},{"c":"P4","b":-3,"lat":-10.49,"d":304},{"c":"P4","b":-3,"lat":-10.19,"d":310},{"c":"P4","b":-3,"lat":-10,"d":297},
{"c":"Q3","b":-4,"lat":-17.22,"d":19},{"c":"Q3","b":-4,"lat":-17.87,"d":43},{"c":"Q3","b":-4,"lat":-18.25,"d":66},{"c":"Q3","b":-4,"lat":-18.58,"d":107},{"c":"Q3","b":-4,"lat":-18.77,"d":153},{"c":"Q3","b":-4,"lat":-18.96,"d":275},{"c":"Q3","b":-4,"lat":-18.83,"d":412},{"c":"Q3","b":-4,"lat":-18.74,"d":500},{"c":"Q3","b":-4,"lat":-17.09,"d":500},{"c":"Q3","b":-4,"lat":-16.83,"d":383},{"c":"Q3","b":-4,"lat":-16.57,"d":275},{"c":"Q3","b":-4,"lat":-16.44,"d":182},{"c":"Q3","b":-4,"lat":-16.63,"d":75},{"c":"Q3","b":-4,"lat":-17.22,"d":22},
{"c":"Q4","b":-5,"lat":-18.09,"d":500},{"c":"Q4","b":-5,"lat":-18.25,"d":452},{"c":"Q4","b":-5,"lat":-18.45,"d":400},{"c":"Q4","b":-5,"lat":-18.7,"d":354},{"c":"Q4","b":-5,"lat":-18.67,"d":275},{"c":"Q4","b":-5,"lat":-18.58,"d":182},{"c":"Q4","b":-5,"lat":-18.38,"d":124},{"c":"Q4","b":-5,"lat":-18.06,"d":78},{"c":"Q4","b":-5,"lat":-17.73,"d":56},{"c":"Q4","b":-5,"lat":-17.25,"d":38},{"c":"Q4","b":-5,"lat":-16.86,"d":54},{"c":"Q4","b":-5,"lat":-16.63,"d":124},{"c":"Q4","b":-5,"lat":-16.63,"d":211},{"c":"Q4","b":-5,"lat":-16.8,"d":275},{"c":"Q4","b":-5,"lat":-17.02,"d":383},{"c":"Q4","b":-5,"lat":-17.18,"d":455},{"c":"Q4","b":-5,"lat":-17.25,"d":500},
{"c":"Q5","b":-6,"lat":-17.2,"d":60},{"c":"Q5","b":-6,"lat":-17.8,"d":66},{"c":"Q5","b":-6,"lat":-18.19,"d":101},{"c":"Q5","b":-6,"lat":-18.32,"d":211},{"c":"Q5","b":-6,"lat":-18.35,"d":275},{"c":"Q5","b":-6,"lat":-18.32,"d":412},{"c":"Q5","b":-6,"lat":-17.93,"d":500},{"c":"Q5","b":-6,"lat":-17.41,"d":500},{"c":"Q5","b":-6,"lat":-17.18,"d":383},{"c":"Q5","b":-6,"lat":-16.95,"d":275},{"c":"Q5","b":-6,"lat":-16.8,"d":182},{"c":"Q5","b":-6,"lat":-16.92,"d":78},
{"c":"Q6","b":-7,"lat":-17.73,"d":500},{"c":"Q6","b":-7,"lat":-17.96,"d":421},{"c":"Q6","b":-7,"lat":-18.09,"d":354},{"c":"Q6","b":-7,"lat":-18.16,"d":275},{"c":"Q6","b":-7,"lat":-18.16,"d":211},{"c":"Q6","b":-7,"lat":-18.06,"d":115},{"c":"Q6","b":-7,"lat":-17.73,"d":79},{"c":"Q6","b":-7,"lat":-17.35,"d":72},{"c":"Q6","b":-7,"lat":-17.02,"d":92},{"c":"Q6","b":-7,"lat":-16.94,"d":182},{"c":"Q6","b":-7,"lat":-17.09,"d":275},{"c":"Q6","b":-7,"lat":-17.28,"d":383},{"c":"Q6","b":-7,"lat":-17.48,"d":479},{"c":"Q6","b":-7,"lat":-17.73,"d":500},
{"c":"Q7","b":-8,"lat":-17.41,"d":86},{"c":"Q7","b":-8,"lat":-17.12,"d":104},{"c":"Q7","b":-8,"lat":-17.05,"d":182},{"c":"Q7","b":-8,"lat":-17.22,"d":275},{"c":"Q7","b":-8,"lat":-17.38,"d":354},{"c":"Q7","b":-8,"lat":-17.6,"d":455},{"c":"Q7","b":-8,"lat":-17.67,"d":470},{"c":"Q7","b":-8,"lat":-17.9,"d":441},{"c":"Q7","b":-8,"lat":-18.06,"d":325},{"c":"Q7","b":-8,"lat":-18.09,"d":275},{"c":"Q7","b":-8,"lat":-18.06,"d":182},{"c":"Q7","b":-8,"lat":-17.83,"d":107},
{"c":"Q8","b":-9,"lat":-17.77,"d":115},{"c":"Q8","b":-9,"lat":-17.93,"d":182},{"c":"Q8","b":-9,"lat":-17.96,"d":275},{"c":"Q8","b":-9,"lat":-17.93,"d":296},{"c":"Q8","b":-9,"lat":-17.77,"d":380},{"c":"Q8","b":-9,"lat":-17.72,"d":409},{"c":"Q8","b":-9,"lat":-17.48,"d":394},{"c":"Q8","b":-9,"lat":-17.31,"d":270},{"c":"Q8","b":-9,"lat":-17.18,"d":182},{"c":"Q8","b":-9,"lat":-17.25,"d":115},{"c":"Q8","b":-9,"lat":-17.48,"d":101},{"c":"Q8","b":-9,"lat":-17.77,"d":115},
{"c":"Q9","b":-10,"lat":-17.44,"d":133},{"c":"Q9","b":-10,"lat":-17.28,"d":153},{"c":"Q9","b":-10,"lat":-17.25,"d":275},{"c":"Q9","b":-10,"lat":-17.35,"d":296},{"c":"Q9","b":-10,"lat":-17.6,"d":365},{"c":"Q9","b":-10,"lat":-17.73,"d":354},{"c":"Q9","b":-10,"lat":-17.85,"d":269},{"c":"Q9","b":-10,"lat":-17.8,"d":141},
{"c":"Q10","b":-11,"lat":-17.48,"d":162},{"c":"Q10","b":-11,"lat":-17.7,"d":194},{"c":"Q10","b":-11,"lat":-17.73,"d":275},{"c":"Q10","b":-11,"lat":-17.72,"d":313},{"c":"Q10","b":-11,"lat":-17.48,"d":293},{"c":"Q10","b":-11,"lat":-17.45,"d":240},{"c":"Q10","b":-11,"lat":-17.45,"d":200},{"c":"Q10","b":-11,"lat":-17.48,"d":162},
{"c":"V3","b":-4,"lat":-14.72,"d":0},{"c":"V3","b":-4,"lat":-15.27,"d":80},{"c":"V3","b":-4,"lat":-15.27,"d":269},{"c":"V3","b":-4,"lat":-14.82,"d":397},{"c":"V3","b":-4,"lat":-14.56,"d":426},{"c":"V3","b":-4,"lat":-14.37,"d":425},{"c":"V3","b":-4,"lat":-13.85,"d":374},{"c":"V3","b":-4,"lat":-13.4,"d":339},{"c":"V3","b":-4,"lat":-12.62,"d":298},{"c":"V3","b":-4,"lat":-11.9,"d":255},{"c":"V3","b":-4,"lat":-11.17,"d":194},{"c":"V3","b":-4,"lat":-11.2,"d":124},{"c":"V3","b":-4,"lat":-11.59,"d":49},{"c":"V3","b":-4,"lat":-11.97,"d":0},
{"c":"W3","b":-4,"lat":-11.13,"d":124},{"c":"W3","b":-4,"lat":-11,"d":101},{"c":"W3","b":-4,"lat":-10.55,"d":90},{"c":"W3","b":-4,"lat":-10,"d":95},{"c":"W3","b":-4,"lat":-10,"d":255},{"c":"W3","b":-4,"lat":-10.35,"d":255},{"c":"W3","b":-4,"lat":-10.68,"d":211},{"c":"W3","b":-4,"lat":-11.13,"d":191},
{"c":"V4","b":-5,"lat":-14.53,"d":0},{"c":"V4","b":-5,"lat":-15.02,"d":80},{"c":"V4","b":-5,"lat":-15.02,"d":269},{"c":"V4","b":-5,"lat":-14.89,"d":322},{"c":"V4","b":-5,"lat":-14.6,"d":360},{"c":"V4","b":-5,"lat":-14.37,"d":362},{"c":"V4","b":-5,"lat":-14.17,"d":351},{"c":"V4","b":-5,"lat":-13.69,"d":304},{"c":"V4","b":-5,"lat":-12.94,"d":266},{"c":"V4","b":-5,"lat":-11.71,"d":203},{"c":"V4","b":-5,"lat":-11.46,"d":176},{"c":"V4","b":-5,"lat":-11.42,"d":124},{"c":"V4","b":-5,"lat":-11.84,"d":46},{"c":"V4","b":-5,"lat":-12.36,"d":0},
{"c":"W4","b":-5,"lat":-10,"d":118},{"c":"W4","b":-5,"lat":-10.16,"d":108},{"c":"W4","b":-5,"lat":-10.39,"d":108},{"c":"W4","b":-5,"lat":-10.58,"d":124},{"c":"W4","b":-5,"lat":-10.62,"d":168},{"c":"W4","b":-5,"lat":-10.45,"d":211},{"c":"W4","b":-5,"lat":-10.16,"d":233},{"c":"W4","b":-5,"lat":-10,"d":227},
{"c":"W5","b":-6,"lat":-10,"d":136},{"c":"W5","b":-6,"lat":-10.29,"d":147},{"c":"W5","b":-6,"lat":-10.29,"d":176},{"c":"W5","b":-6,"lat":-10,"d":188},
{"c":"V5","b":-6,"lat":-14.3,"d":0},{"c":"V5","b":-6,"lat":-14.82,"d":80},{"c":"V5","b":-6,"lat":-14.89,"d":153},{"c":"V5","b":-6,"lat":-14.85,"d":266},{"c":"V5","b":-6,"lat":-14.6,"d":310},{"c":"V5","b":-6,"lat":-14.3,"d":310},{"c":"V5","b":-6,"lat":-13.7,"d":270},{"c":"V5","b":-6,"lat":-13,"d":240},{"c":"V5","b":-6,"lat":-12.2,"d":190},{"c":"V5","b":-6,"lat":-11.7,"d":140},{"c":"V5","b":-6,"lat":-11.6,"d":110},{"c":"V5","b":-6,"lat":-11.9,"d":60},{"c":"V5","b":-6,"lat":-12.7,"d":0},
{"c":"V6","b":-7,"lat":-14,"d":0},{"c":"V6","b":-7,"lat":-14.24,"d":22},{"c":"V6","b":-7,"lat":-14.72,"d":139},{"c":"V6","b":-7,"lat":-14.6,"d":220},{"c":"V6","b":-7,"lat":-14.37,"d":253},{"c":"V6","b":-7,"lat":-14.05,"d":249},{"c":"V6","b":-7,"lat":-13.43,"d":221},{"c":"V6","b":-7,"lat":-12.75,"d":188},{"c":"V6","b":-7,"lat":-12.17,"d":141},{"c":"V6","b":-7,"lat":-12.1,"d":110},{"c":"V6","b":-7,"lat":-12.3,"d":66},{"c":"V6","b":-7,"lat":-12.69,"d":40},{"c":"V6","b":-7,"lat":-13.27,"d":0},
{"c":"V7","b":-8,"lat":-14.24,"d":37},{"c":"V7","b":-8,"lat":-13.66,"d":21},{"c":"V7","b":-8,"lat":-12.94,"d":46},{"c":"V7","b":-8,"lat":-12.62,"d":80},{"c":"V7","b":-8,"lat":-12.62,"d":124},{"c":"V7","b":-8,"lat":-12.94,"d":168},{"c":"V7","b":-8,"lat":-13.66,"d":188},{"c":"V7","b":-8,"lat":-14.43,"d":176},{"c":"V7","b":-8,"lat":-14.56,"d":139},{"c":"V7","b":-8,"lat":-14.5,"d":80},
{"c":"V8","b":-9,"lat":-14.17,"d":81},{"c":"V8","b":-9,"lat":-14.04,"d":57},{"c":"V8","b":-9,"lat":-13.66,"d":45},{"c":"V8","b":-9,"lat":-13.27,"d":52},{"c":"V8","b":-9,"lat":-13.07,"d":66},{"c":"V8","b":-9,"lat":-12.98,"d":89},{"c":"V8","b":-9,"lat":-13.2,"d":127},{"c":"V8","b":-9,"lat":-13.72,"d":137},{"c":"V8","b":-9,"lat":-14.04,"d":115},{"c":"V8","b":-9,"lat":-14.17,"d":81},
{"c":"S0","b":0,"lat":-24.94,"d":255},{"c":"S0","b":0,"lat":-24.72,"d":251},{"c":"S0","b":0,"lat":-24.27,"d":226},{"c":"S0","b":0,"lat":-23.75,"d":226},{"c":"S0","b":0,"lat":-23.37,"d":220},{"c":"S0","b":0,"lat":-23.07,"d":208},{"c":"S0","b":0,"lat":-22.85,"d":188},{"c":"S0","b":0,"lat":-22.46,"d":156},{"c":"S0","b":0,"lat":-22.2,"d":137},{"c":"S0","b":0,"lat":-21.94,"d":129},{"c":"S0","b":0,"lat":-21.55,"d":134},{"c":"S0","b":0,"lat":-21.24,"d":142},{"c":"S0","b":0,"lat":-21.03,"d":126},{"c":"S0","b":0,"lat":-20.87,"d":105},{"c":"S0","b":0,"lat":-20.55,"d":76},{"c":"S0","b":0,"lat":-20.32,"d":76},{"c":"S0","b":0,"lat":-20.06,"d":89},{"c":"S0","b":0,"lat":-19.82,"d":83},{"c":"S0","b":0,"lat":-19.61,"d":56},{"c":"S0","b":0,"lat":-19.39,"d":48},{"c":"S0","b":0,"lat":-19.16,"d":51},{"c":"S0","b":0,"lat":-18.9,"d":62},{"c":"S0","b":0,"lat":-18.61,"d":56},{"c":"S0","b":0,"lat":-18.32,"d":28},{"c":"S0","b":0,"lat":-18.06,"d":14},{"c":"S0","b":0,"lat":-17.7,"d":3},{"c":"S0","b":0,"lat":-17.6,"d":0},{"c":"S0","b":0,"lat":-24.94,"d":0},
{"c":"S1","b":1,"lat":-24.94,"d":184},{"c":"S1","b":1,"lat":-24.66,"d":181},{"c":"S1","b":1,"lat":-24.2,"d":171},{"c":"S1","b":1,"lat":-23.3,"d":166},{"c":"S1","b":1,"lat":-22.85,"d":150},{"c":"S1","b":1,"lat":-22.46,"d":127},{"c":"S1","b":1,"lat":-22.2,"d":108},{"c":"S1","b":1,"lat":-21.55,"d":95},{"c":"S1","b":1,"lat":-20.9,"d":66},{"c":"S1","b":1,"lat":-20.58,"d":50},{"c":"S1","b":1,"lat":-20,"d":47},{"c":"S1","b":1,"lat":-19.68,"d":28},{"c":"S1","b":1,"lat":-19.22,"d":22},{"c":"S1","b":1,"lat":-18.83,"d":34},{"c":"S1","b":1,"lat":-18.64,"d":22},{"c":"S1","b":1,"lat":-18.38,"d":3},{"c":"S1","b":1,"lat":-18.3,"d":0},{"c":"S1","b":1,"lat":-24.94,"d":0},
{"c":"S2","b":2,"lat":-24.94,"d":136},{"c":"S2","b":2,"lat":-24.56,"d":128},{"c":"S2","b":2,"lat":-24.4,"d":121},{"c":"S2","b":2,"lat":-24,"d":119},{"c":"S2","b":2,"lat":-23.36,"d":127},{"c":"S2","b":2,"lat":-23.04,"d":123},{"c":"S2","b":2,"lat":-22.59,"d":101},{"c":"S2","b":2,"lat":-22.07,"d":78},{"c":"S2","b":2,"lat":-21.68,"d":75},{"c":"S2","b":2,"lat":-21.16,"d":63},{"c":"S2","b":2,"lat":-20.71,"d":43},{"c":"S2","b":2,"lat":-20.36,"d":21},{"c":"S2","b":2,"lat":-20.06,"d":20},{"c":"S2","b":2,"lat":-19.74,"d":3},{"c":"S2","b":2,"lat":-19.7,"d":0},{"c":"S2","b":2,"lat":-24.94,"d":0},
{"c":"S2b","b":2,"lat":-19.3,"d":0},{"c":"S2b","b":2,"lat":-18.9,"d":17},{"c":"S2b","b":2,"lat":-18.64,"d":12},{"c":"S2b","b":2,"lat":-18.54,"d":0},
{"c":"S3","b":3,"lat":-24.94,"d":95},{"c":"S3","b":3,"lat":-24.27,"d":92},{"c":"S3","b":3,"lat":-23.3,"d":92},{"c":"S3","b":3,"lat":-22.9,"d":85},{"c":"S3","b":3,"lat":-22.46,"d":63},{"c":"S3","b":3,"lat":-21.8,"d":55},{"c":"S3","b":3,"lat":-21.16,"d":46},{"c":"S3","b":3,"lat":-20.65,"d":28},{"c":"S3","b":3,"lat":-20.26,"d":12},{"c":"S3","b":3,"lat":-20.06,"d":0},{"c":"S3","b":3,"lat":-24.94,"d":0},
{"c":"S4","b":4,"lat":-24.94,"d":59},{"c":"S4","b":4,"lat":-24.63,"d":55},{"c":"S4","b":4,"lat":-24.37,"d":43},{"c":"S4","b":4,"lat":-24,"d":48},{"c":"S4","b":4,"lat":-23.5,"d":54},{"c":"S4","b":4,"lat":-23.1,"d":59},{"c":"S4","b":4,"lat":-22.85,"d":54},{"c":"S4","b":4,"lat":-22.33,"d":33},{"c":"S4","b":4,"lat":-21.8,"d":31},{"c":"S4","b":4,"lat":-21.3,"d":24},{"c":"S4","b":4,"lat":-20.97,"d":12},{"c":"S4","b":4,"lat":-20.87,"d":0},{"c":"S4","b":4,"lat":-24.94,"d":0},
{"c":"S5","b":5,"lat":-24.94,"d":22},{"c":"S5","b":5,"lat":-24.2,"d":5},{"c":"S5","b":5,"lat":-23.75,"d":17},{"c":"S5","b":5,"lat":-23.3,"d":27},{"c":"S5","b":5,"lat":-22.9,"d":22},{"c":"S5","b":5,"lat":-22.33,"d":14},{"c":"S5","b":5,"lat":-21.42,"d":0},{"c":"S5","b":5,"lat":-24.94,"d":0},
{"c":"T0","b":0,"lat":-16.76,"d":0},{"c":"T0","b":0,"lat":-16.38,"d":40},{"c":"T0","b":0,"lat":-16.05,"d":65},{"c":"T0","b":0,"lat":-15.79,"d":64},{"c":"T0","b":0,"lat":-15.53,"d":47},{"c":"T0","b":0,"lat":-15.27,"d":25},{"c":"T0","b":0,"lat":-15.15,"d":0},
{"c":"T1","b":1,"lat":-16.67,"d":0},{"c":"T1","b":1,"lat":-16.25,"d":37},{"c":"T1","b":1,"lat":-15.99,"d":47},{"c":"T1","b":1,"lat":-15.73,"d":44},{"c":"T1","b":1,"lat":-15.34,"d":0},
{"c":"T2","b":2,"lat":-16.44,"d":0},{"c":"T2","b":2,"lat":-16.25,"d":20},{"c":"T2","b":2,"lat":-16.05,"d":30},{"c":"T2","b":2,"lat":-15.79,"d":28},{"c":"T2","b":2,"lat":-15.47,"d":0},
{"c":"T3","b":3,"lat":-16.12,"d":0},{"c":"T3","b":3,"lat":-15.99,"d":12},{"c":"T3","b":3,"lat":-15.86,"d":12},{"c":"T3","b":3,"lat":-15.66,"d":0},
{"c":"U0","b":0,"lat":-11.2,"d":2},{"c":"U0","b":0,"lat":-10.91,"d":5},{"c":"U0","b":0,"lat":-10.68,"d":22},{"c":"U0","b":0,"lat":-10.42,"d":30},{"c":"U0","b":0,"lat":-10.23,"d":46},{"c":"U0","b":0,"lat":-10,"d":69},{"c":"U0","b":0,"lat":-10,"d":0},
{"c":"U1","b":1,"lat":-10.7,"d":0},{"c":"U1","b":1,"lat":-10.23,"d":22},{"c":"U1","b":1,"lat":-10,"d":54},{"c":"U1","b":1,"lat":-10,"d":0},
{"c":"U2","b":2,"lat":-10.09,"d":0},{"c":"U2","b":2,"lat":-10,"d":34},{"c":"U2","b":2,"lat":-10,"d":0},
{"c":"X0","b":0,"lat":-13.01,"d":500},{"c":"X0","b":0,"lat":-12.75,"d":452},{"c":"X0","b":0,"lat":-12.36,"d":415},{"c":"X0","b":0,"lat":-12.07,"d":380},{"c":"X0","b":0,"lat":-11.68,"d":358},{"c":"X0","b":0,"lat":-11.42,"d":350},{"c":"X0","b":0,"lat":-11.17,"d":357},{"c":"X0","b":0,"lat":-11.04,"d":383},{"c":"X0","b":0,"lat":-10.9,"d":452},{"c":"X0","b":0,"lat":-10.84,"d":500},
{"c":"Y0","b":0,"lat":-10.06,"d":500},{"c":"Y0","b":0,"lat":-10.04,"d":452},{"c":"Y0","b":0,"lat":-10,"d":432},{"c":"Y0","b":0,"lat":-10,"d":500}
],
"botW":[
{"s":"22.0","lat":-14.24,"d":0},{"s":"22.0","lat":-14.11,"d":22},{"s":"22.0","lat":-13.66,"d":33},{"s":"22.0","lat":-12.49,"d":46},{"s":"22.0","lat":-10,"d":56},
{"s":"22.5","lat":-16.57,"d":0},{"s":"22.5","lat":-16.5,"d":17},{"s":"22.5","lat":-16.12,"d":31},{"s":"22.5","lat":-14.69,"d":50},{"s":"22.5b","lat":-14.11,"d":56},{"s":"22.5b","lat":-10,"d":72},
{"s":"23.0","lat":-18.38,"d":0},{"s":"23.0","lat":-18.25,"d":22},{"s":"23.0","lat":-17.67,"d":40},{"s":"23.0","lat":-17.02,"d":53},{"s":"23.0","lat":-16.05,"d":69},{"s":"23.0","lat":-14.69,"d":73},{"s":"23.0b","lat":-14.11,"d":76},{"s":"23.0b","lat":-10,"d":86},
{"s":"23.5","lat":-20.87,"d":0},{"s":"23.5","lat":-20.58,"d":28},{"s":"23.5","lat":-19.87,"d":41},{"s":"23.5","lat":-17.99,"d":59},{"s":"23.5","lat":-17.48,"d":73},{"s":"23.5","lat":-16.7,"d":83},{"s":"23.5","lat":-15.73,"d":91},{"s":"23.5","lat":-14.69,"d":94},{"s":"23.5b","lat":-14.11,"d":94},{"s":"23.5b","lat":-10,"d":101},
{"s":"24.0","lat":-22.81,"d":0},{"s":"24.0","lat":-22.33,"d":33},{"s":"24.0","lat":-21.1,"d":59},{"s":"24.0","lat":-19.87,"d":73},{"s":"24.0","lat":-18.9,"d":79},{"s":"24.0","lat":-17.93,"d":91},{"s":"24.0","lat":-17.41,"d":104},{"s":"24.0","lat":-16.38,"d":110},{"s":"24.0","lat":-14.69,"d":114},{"s":"24.0b","lat":-14.11,"d":114},{"s":"24.0b","lat":-10,"d":118},
{"s":"24.5","lat":-24.94,"d":25},{"s":"24.5","lat":-24.34,"d":44},{"s":"24.5b","lat":-23.68,"d":53},{"s":"24.5b","lat":-22.13,"d":79},{"s":"24.5b","lat":-21.03,"d":104},{"s":"24.5b","lat":-19.87,"d":112},{"s":"24.5b","lat":-18.9,"d":115},{"s":"24.5b","lat":-17.99,"d":127},{"s":"24.5b","lat":-17.28,"d":137},{"s":"24.5b","lat":-14.69,"d":140},{"s":"24.5c","lat":-14.1,"d":139},{"s":"24.5c","lat":-12.82,"d":134},{"s":"24.5c","lat":-10,"d":139},
{"s":"25.0","lat":-24.94,"d":78},{"s":"25.0","lat":-24.36,"d":90},{"s":"25.0b","lat":-23.72,"d":101},{"s":"25.0b","lat":-22.98,"d":120},{"s":"25.0b","lat":-22.27,"d":142},{"s":"25.0b","lat":-21.68,"d":155},{"s":"25.0b","lat":-20.06,"d":168},{"s":"25.0b","lat":-19.22,"d":169},{"s":"25.0b","lat":-17.99,"d":178},{"s":"25.0b","lat":-17.35,"d":182},{"s":"25.0b","lat":-14.7,"d":179},{"s":"25.0c","lat":-14.1,"d":177},{"s":"25.0c","lat":-12.62,"d":168},{"s":"25.0c","lat":-11.52,"d":164},{"s":"25.0c","lat":-10,"d":165},
{"s":"25.5","lat":-24.94,"d":153},{"s":"25.5","lat":-24.01,"d":179},{"s":"25.5b","lat":-23.43,"d":192},{"s":"25.5b","lat":-21.81,"d":229},{"s":"25.5b","lat":-20.52,"d":235},{"s":"25.5b","lat":-19.22,"d":237},{"s":"25.5b","lat":-17.15,"d":245},{"s":"25.5b","lat":-16.38,"d":240},{"s":"25.5b","lat":-14.43,"d":239},{"s":"25.5c","lat":-13.83,"d":229},{"s":"25.5c","lat":-11.84,"d":213},{"s":"25.5c","lat":-10,"d":204},
{"s":"26.0","lat":-24.94,"d":282},{"s":"26.0","lat":-24.37,"d":294},{"s":"26.0b","lat":-23.77,"d":305},{"s":"26.0b","lat":-22.65,"d":320},{"s":"26.0b","lat":-21.94,"d":325},{"s":"26.0b","lat":-19.55,"d":325},{"s":"26.0b","lat":-18.32,"d":325},{"s":"26.0b","lat":-17.35,"d":317},{"s":"26.0b","lat":-15.73,"d":312},{"s":"26.0b","lat":-14.43,"d":307},{"s":"26.0c","lat":-13.85,"d":301},{"s":"26.0c","lat":-11.52,"d":269},{"s":"26.0c","lat":-10,"d":248},
{"s":"26.5","lat":-24.94,"d":434},{"s":"26.5","lat":-23.43,"d":442},{"s":"26.5b","lat":-22.86,"d":444},{"s":"26.5b","lat":-21.81,"d":439},{"s":"26.5b","lat":-20.52,"d":434},{"s":"26.5b","lat":-19.55,"d":432},{"s":"26.5b","lat":-18.9,"d":427},{"s":"26.5b","lat":-17.93,"d":421},{"s":"26.5b","lat":-17.15,"d":406},{"s":"26.5b","lat":-16.63,"d":400},{"s":"26.5b","lat":-15.34,"d":394},{"s":"26.5b","lat":-13.72,"d":375},{"s":"26.5c","lat":-13.14,"d":367},{"s":"26.5c","lat":-11.52,"d":342},{"s":"26.5c","lat":-10,"d":326}
],
"botWL":[
{"t":"24.5","lat":-24.01,"d":46,"a":18},{"t":"25.0","lat":-24.04,"d":94,"a":20},{"t":"25.5","lat":-23.72,"d":186,"a":25},{"t":"26.0","lat":-24.07,"d":298,"a":22},{"t":"26.5","lat":-23.16,"d":442,"a":3},{"t":"22.5","lat":-14.4,"d":52,"a":0},{"t":"23.0","lat":-14.39,"d":74,"a":0},{"t":"23.5","lat":-14.39,"d":92,"a":0},{"t":"24.0","lat":-14.39,"d":113,"a":0},{"t":"24.5","lat":-14.39,"d":139,"a":0},{"t":"25.0","lat":-14.4,"d":179,"a":0},{"t":"25.5","lat":-14.13,"d":234,"a":-3},{"t":"26.0","lat":-14.14,"d":304,"a":-5},{"t":"26.5","lat":-13.44,"d":370,"a":-10}
],
"botBL":[
{"t":"2","lat":-24.34,"d":123,"a":0},{"t":"0","lat":-23.68,"d":226,"a":0},{"t":"0","lat":-16.32,"d":49,"a":30},{"t":"10","lat":-17.49,"d":218,"a":-90},{"t":"2","lat":-16.15,"d":187,"a":90},{"t":"2","lat":-15.55,"d":215,"a":90},{"t":"6","lat":-13.43,"d":221,"a":-40},{"t":"4","lat":-10.47,"d":214,"a":80},{"t":"4","lat":-13.69,"d":305,"a":-60},{"t":"2","lat":-13.67,"d":394,"a":-60},{"t":"0","lat":-11.98,"d":375,"a":-45},{"t":"2","lat":-20.23,"d":331,"a":-70},{"t":"4","lat":-18.64,"d":368,"a":80},{"t":"8","lat":-17.78,"d":380,"a":90},{"t":"2","lat":-19.13,"d":466,"a":80},{"t":"2","lat":-22.53,"d":495,"a":70},{"t":"6","lat":-17.46,"d":476,"a":90},{"t":"4","lat":-17.16,"d":456,"a":90}
]
},
"hconcat":[{"vconcat":[
{"width":769,"height":576,"view":{"fill":"#b6b6ff","stroke":null},
"encoding":{"x":{"field":"lat","type":"quantitative","scale":{"domain":[-25,-10],"nice":false,"zero":false},"axis":null},"y":{"field":"d","type":"quantitative","scale":{"domain":[0,500],"reverse":true,"nice":false,"zero":false},"axis":null}},
"resolve":{"axis":{"x":"independent","y":"independent"}},
"layer":[
{"data":{"name":"topC"},"mark":{"type":"line","filled":true,"strokeWidth":0,"clip":true},"encoding":{"x":{"field":"lat","type":"quantitative","axis":{"orient":"bottom","title":null,"values":[-24,-22,-20,-18,-16,-14,-12,-10],"labelExpr":"datum.value%4==0&&datum.value!=-10?abs(datum.value)+'°S':''","labelFontSize":19,"labelColor":"#222","labelPadding":5,"tickSize":12,"tickWidth":1.5,"tickColor":"black","domainColor":"black","domainWidth":2,"grid":false,"zindex":1,"labelFlush":false}},"y":{"field":"d","type":"quantitative","axis":{"orient":"left","title":"PROFONDEUR (m)","titleFontSize":21,"titleFontWeight":"normal","titleColor":"#222","titlePadding":16,"values":[0,50,100,150,200,250,300,350,400,450,500],"labelExpr":"datum.value%100==0?datum.value:''","labelFontSize":19,"labelColor":"#222","labelPadding":6,"tickSize":12,"tickWidth":1.5,"tickColor":"black","domainColor":"black","domainWidth":2,"grid":false,"zindex":1,"labelFlush":false}},"detail":{"field":"c"},"order":{"value":null},"color":{"field":"b","type":"ordinal","legend":null,"scale":{"domain":[-16,-15,-14,-13,-12,-11,-10,-9,-8,-7,-6,-5,-4,-3,-2,-1,0,1,2,3,4,5,6,7,8,9,10,11,12,13,14,15],"range":["#080068","#10007c","#1e0094","#2800ac","#3200c4","#3c00dc","#4400f5","#5010ff","#6028ff","#7040ff","#7d5aff","#8a70ff","#9a8cff","#a59cff","#aeaaff","#b6b6ff","#ffbcbc","#ffa5b0","#ff8ea0","#ff7090","#ff5078","#ff3068","#ff1a5c","#ff0050","#ee004c","#d80046","#cc0040","#b8003a","#a50034","#90002a","#780020","#5a0010"]}}}},
{"data":{"name":"topC"},"transform":[{"filter":"(datum.b==0||datum.b==-1)&&!((datum.d==0||datum.d==500)&&(datum.lat==-10||datum.lat==-25))"}],"mark":{"type":"line","color":"black","strokeWidth":3.2,"clip":true},"encoding":{"detail":{"field":"c"},"order":{"value":null}}},
{"data":{"name":"topC"},"transform":[{"filter":"datum.b>0&&datum.b%2==0&&!((datum.d==0||datum.d==500)&&(datum.lat==-10||datum.lat==-25))"}],"mark":{"type":"line","color":"black","strokeWidth":1.5,"clip":true},"encoding":{"detail":{"field":"c"},"order":{"value":null}}},
{"data":{"name":"topC"},"transform":[{"filter":"datum.b<-1&&datum.b%2!=0&&!((datum.d==0||datum.d==500)&&(datum.lat==-10||datum.lat==-25))"}],"mark":{"type":"line","color":"#0a0a40","strokeWidth":1.8,"strokeDash":[4,3],"clip":true},"encoding":{"detail":{"field":"c"},"order":{"value":null}}},
{"data":{"name":"topW"},"mark":{"type":"line","color":"white","strokeWidth":1.7,"clip":true,"interpolate":"monotone"},"encoding":{"detail":{"field":"s"},"order":{"value":null}}},
{"data":{"name":"topBL"},"mark":{"type":"text","fontSize":14,"color":"#111"},"encoding":{"text":{"field":"t"},"angle":{"field":"a","type":"quantitative","scale":null}}},
{"data":{"name":"topWL"},"mark":{"type":"text","fontSize":16,"fontWeight":"bold","color":"white"},"encoding":{"text":{"field":"t"},"angle":{"field":"a","type":"quantitative","scale":null}}},
{"data":{"values":[{"t":"NVJ","lat":-12.76,"d":73},{"t":"NCJ","lat":-18.02,"d":213}]},"mark":{"type":"text","fontSize":38,"fontWeight":"bold","color":"white"},"encoding":{"text":{"field":"t"}}},
{"data":{"values":[{"t":"Climatologie CARS","lat":-12.15,"d":482}]},"mark":{"type":"text","fontSize":22,"color":"#141432"},"encoding":{"text":{"field":"t"}}},
{"data":{"values":[{"t":"LONGITUDE : moyenne 162°E-165°E","lat":-25.64,"d":-52}]},"mark":{"type":"text","fontSize":21,"align":"left","color":"#222"},"encoding":{"text":{"field":"t"}}},
{"data":{"values":[{"lat":-25,"d":0}]},"mark":{"type":"point","opacity":0},"encoding":{"x":{"field":"lat","type":"quantitative","axis":{"orient":"top","title":null,"values":[-24,-22,-20,-18,-16,-14,-12,-10],"labels":false,"tickSize":12,"tickWidth":1.5,"tickColor":"black","domainColor":"black","domainWidth":2.5,"grid":false,"zindex":1}},"y":{"field":"d","type":"quantitative","axis":{"orient":"right","title":null,"values":[0,50,100,150,200,250,300,350,400,450,500],"labels":false,"tickSize":12,"tickWidth":1.5,"tickColor":"black","domainColor":"black","domainWidth":1.5,"grid":false,"zindex":1}}}}
]},
{"width":769,"height":574,"view":{"fill":"#b6b6ff","stroke":null},
"encoding":{"x":{"field":"lat","type":"quantitative","scale":{"domain":[-24.94,-10],"nice":false,"zero":false},"axis":null},"y":{"field":"d","type":"quantitative","scale":{"domain":[0,500],"reverse":true,"nice":false,"zero":false},"axis":null}},
"resolve":{"axis":{"x":"independent","y":"independent"}},
"layer":[
{"data":{"name":"botC"},"mark":{"type":"line","filled":true,"strokeWidth":0,"clip":true},"encoding":{"x":{"field":"lat","type":"quantitative","axis":{"orient":"bottom","title":null,"values":[-24,-22,-20,-18,-16,-14,-12,-10],"labelExpr":"datum.value%4==0&&datum.value!=-10?abs(datum.value)+'°S':''","labelFontSize":19,"labelColor":"#222","labelPadding":10,"tickSize":12,"tickWidth":1.5,"tickColor":"black","domainColor":"black","domainWidth":2,"grid":false,"zindex":1,"labelFlush":false}},"y":{"field":"d","type":"quantitative","axis":{"orient":"left","title":"PROFONDEUR (m)","titleFontSize":21,"titleFontWeight":"normal","titleColor":"#222","titlePadding":16,"values":[0,50,100,150,200,250,300,350,400,450,500],"labelExpr":"datum.value%100==0?datum.value:''","labelFontSize":19,"labelColor":"#222","labelPadding":6,"tickSize":12,"tickWidth":1.5,"tickColor":"black","domainColor":"black","domainWidth":2,"grid":false,"zindex":1,"labelFlush":false}},"detail":{"field":"c"},"order":{"value":null},"color":{"field":"b","type":"ordinal","legend":null,"scale":{"domain":[-16,-15,-14,-13,-12,-11,-10,-9,-8,-7,-6,-5,-4,-3,-2,-1,0,1,2,3,4,5,6,7,8,9,10,11,12,13,14,15],"range":["#080068","#10007c","#1e0094","#2800ac","#3200c4","#3c00dc","#4400f5","#5010ff","#6028ff","#7040ff","#7d5aff","#8a70ff","#9a8cff","#a59cff","#aeaaff","#b6b6ff","#ffbcbc","#ffa5b0","#ff8ea0","#ff7090","#ff5078","#ff3068","#ff1a5c","#ff0050","#ee004c","#d80046","#cc0040","#b8003a","#a50034","#90002a","#780020","#5a0010"]}}}},
{"data":{"name":"botC"},"transform":[{"filter":"(datum.b==0||datum.b==-1)&&!((datum.d==0||datum.d==500)&&(datum.lat==-10||datum.lat==-24.94))"}],"mark":{"type":"line","color":"black","strokeWidth":3.2,"clip":true},"encoding":{"detail":{"field":"c"},"order":{"value":null}}},
{"data":{"name":"botC"},"transform":[{"filter":"datum.b>0&&datum.b%2==0&&!((datum.d==0||datum.d==500)&&(datum.lat==-10||datum.lat==-24.94))"}],"mark":{"type":"line","color":"black","strokeWidth":1.5,"clip":true},"encoding":{"detail":{"field":"c"},"order":{"value":null}}},
{"data":{"name":"botC"},"transform":[{"filter":"datum.b<-1&&datum.b%2!=0&&!((datum.d==0||datum.d==500)&&(datum.lat==-10||datum.lat==-24.94))"}],"mark":{"type":"line","color":"#0a0a40","strokeWidth":1.8,"strokeDash":[4,3],"clip":true},"encoding":{"detail":{"field":"c"},"order":{"value":null}}},
{"data":{"name":"botW"},"mark":{"type":"line","color":"white","strokeWidth":1.7,"clip":true,"interpolate":"monotone"},"encoding":{"detail":{"field":"s"},"order":{"value":null}}},
{"data":{"name":"botBL"},"mark":{"type":"text","fontSize":14,"color":"#111"},"encoding":{"text":{"field":"t"},"angle":{"field":"a","type":"quantitative","scale":null}}},
{"data":{"name":"botWL"},"mark":{"type":"text","fontSize":16,"fontWeight":"bold","color":"white"},"encoding":{"text":{"field":"t"},"angle":{"field":"a","type":"quantitative","scale":null}}},
{"data":{"values":[{"t":"NVJ","lat":-12.98,"d":112},{"t":"NCJ","lat":-17.56,"d":263}]},"mark":{"type":"text","fontSize":38,"fontWeight":"bold","color":"white"},"encoding":{"text":{"field":"t"}}},
{"data":{"values":[{"t":"ORCA025-G70 (moy 1971-2001)","lat":-13.32,"d":479}]},"mark":{"type":"text","fontSize":21.5,"color":"#141432"},"encoding":{"text":{"field":"t"}}},
{"data":{"values":[{"t":"LATITUDE","lat":-17.19,"d":554}]},"mark":{"type":"text","fontSize":20,"color":"#222"},"encoding":{"text":{"field":"t"}}},
{"data":{"values":[{"lat":-24.94,"d":0}]},"mark":{"type":"point","opacity":0},"encoding":{"x":{"field":"lat","type":"quantitative","axis":{"orient":"top","title":null,"values":[-24,-22,-20,-18,-16,-14,-12,-10],"labels":false,"tickSize":12,"tickWidth":1.5,"tickColor":"black","domainColor":"black","domainWidth":2,"grid":false,"zindex":1}},"y":{"field":"d","type":"quantitative","axis":{"orient":"right","title":null,"values":[0,50,100,150,200,250,300,350,400,450,500],"labels":false,"tickSize":12,"tickWidth":1.5,"tickColor":"black","domainColor":"black","domainWidth":1.5,"grid":false,"zindex":1}}}}
]}
],"spacing":65,"bounds":"flush"},
{"width":28,"height":1215,"view":{"stroke":null},
"data":{"values":[{"b":-16,"hi":-15},{"b":-15,"hi":-14},{"b":-14,"hi":-13},{"b":-13,"hi":-12},{"b":-12,"hi":-11},{"b":-11,"hi":-10},{"b":-10,"hi":-9},{"b":-9,"hi":-8},{"b":-8,"hi":-7},{"b":-7,"hi":-6},{"b":-6,"hi":-5},{"b":-5,"hi":-4},{"b":-4,"hi":-3},{"b":-3,"hi":-2},{"b":-2,"hi":-1},{"b":-1,"hi":0},{"b":0,"hi":1},{"b":1,"hi":2},{"b":2,"hi":3},{"b":3,"hi":4},{"b":4,"hi":5},{"b":5,"hi":6},{"b":6,"hi":7},{"b":7,"hi":8},{"b":8,"hi":9},{"b":9,"hi":10},{"b":10,"hi":11},{"b":11,"hi":12},{"b":12,"hi":13},{"b":13,"hi":14},{"b":14,"hi":15},{"b":15,"hi":16}]},
"mark":{"type":"rect","stroke":"#111","strokeWidth":1.2},
"encoding":{"y":{"field":"b","type":"quantitative","scale":{"domain":[-33.6,33.9],"nice":false,"zero":false},"axis":{"orient":"right","title":null,"values":[-16,-14,-12,-10,-8,-6,-4,-2,0,2,4,6,8,10,12,14,16],"ticks":false,"domain":false,"grid":false,"labelFontSize":21,"labelColor":"#222","labelPadding":8}},"y2":{"field":"hi"},"color":{"field":"b","type":"ordinal","legend":null,"scale":{"domain":[-16,-15,-14,-13,-12,-11,-10,-9,-8,-7,-6,-5,-4,-3,-2,-1,0,1,2,3,4,5,6,7,8,9,10,11,12,13,14,15],"range":["#080068","#10007c","#1e0094","#2800ac","#3200c4","#3c00dc","#4400f5","#5010ff","#6028ff","#7040ff","#7d5aff","#8a70ff","#9a8cff","#a59cff","#aeaaff","#b6b6ff","#ffbcbc","#ffa5b0","#ff8ea0","#ff7090","#ff5078","#ff3068","#ff1a5c","#ff0050","#ee004c","#d80046","#cc0040","#b8003a","#a50034","#90002a","#780020","#5a0010"]}}}}
],"spacing":821,"bounds":"flush"}
